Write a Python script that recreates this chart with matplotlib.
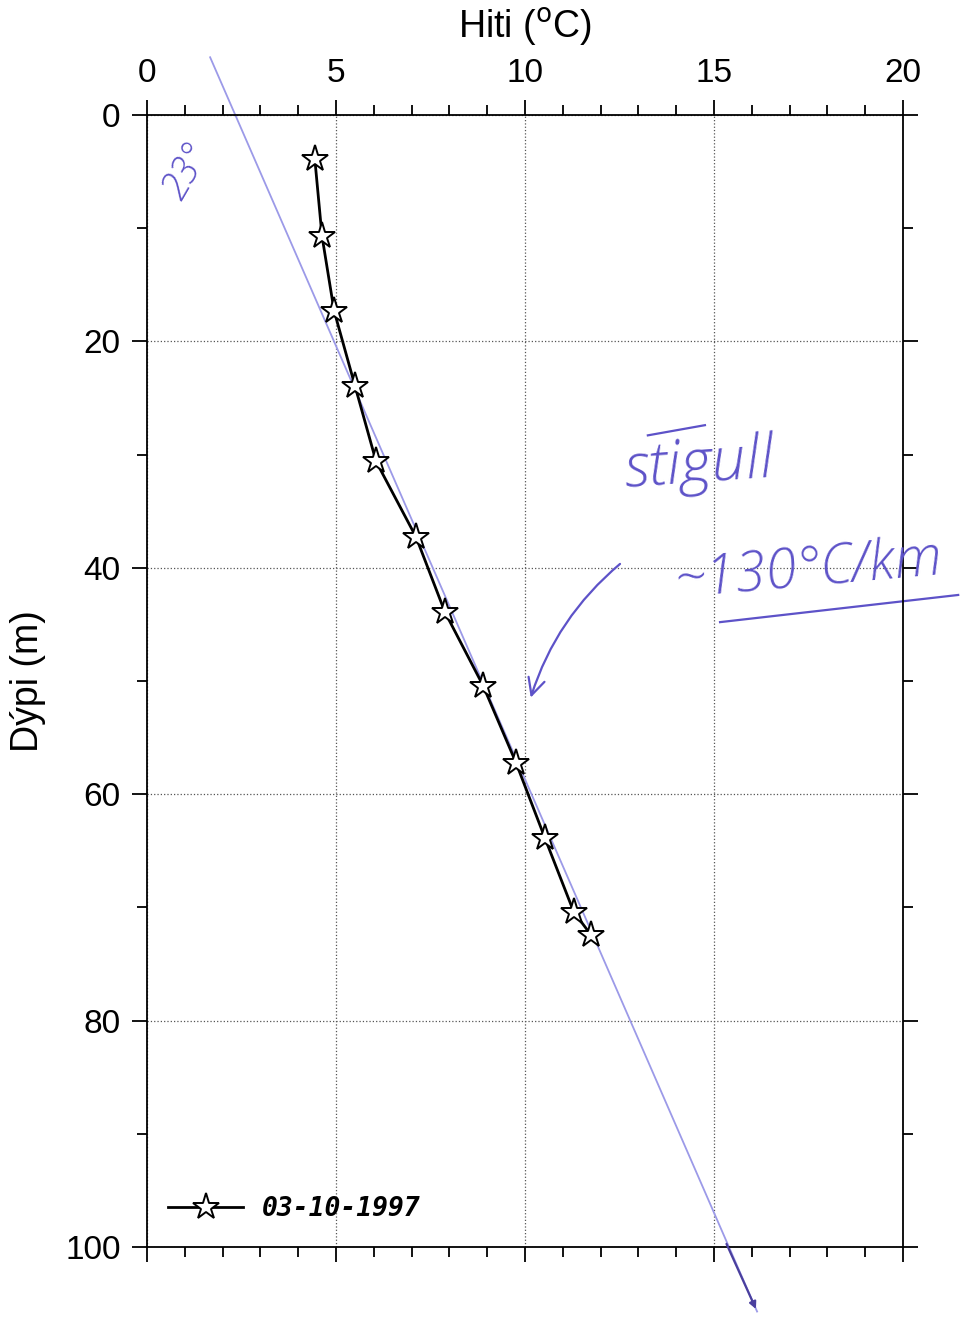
import numpy as np
import matplotlib.pyplot as plt
from matplotlib.ticker import MultipleLocator

plt.rcParams['font.family'] = ['Liberation Sans', 'DejaVu Sans']

# Measured temperature profile, 03-10-1997
temp = [4.44, 4.63, 4.95, 5.50, 6.06, 7.12, 7.88, 8.89, 9.76, 10.53, 11.29, 11.74]
depth = [3.9, 10.7, 17.3, 23.9, 30.6, 37.3, 43.9, 50.4, 57.2, 63.9, 70.4, 72.4]
series_label = '03-10-1997'

# Hand-drawn gradient line (~130 C/km), end points
grad_temp = [1.67, 16.14]
grad_depth = [-5.1, 105.7]

ink = '#5d52c8'
pale = '#9c9ae8'
hand = dict(color=ink, style='italic', weight='light',
            family=['Open Sans', 'DejaVu Sans'])

fig = plt.figure(figsize=(9.65, 13.18), dpi=100)
ax = fig.add_axes([147/965, 1 - 1247/1318, 756/965, 1132/1318])

# hand-drawn gradient line
ax.plot(grad_temp, grad_depth, color=pale, lw=1.3, clip_on=False, zorder=2)
ax.annotate('', xy=(grad_temp[1], grad_depth[1]), xytext=(15.3, 99.5),
            arrowprops=dict(arrowstyle='-|>', color='#4a3f9e', lw=1.6,
                            mutation_scale=10),
            annotation_clip=False)

# measured profile
ax.plot(temp, depth, color='black', lw=2, marker='*', ms=20,
        mfc='white', mec='black', mew=1.4, label=series_label, zorder=4)

ax.set_xlim(0, 20)
ax.set_ylim(100, 0)
ax.xaxis.set_major_locator(MultipleLocator(5))
ax.xaxis.set_minor_locator(MultipleLocator(1))
ax.yaxis.set_major_locator(MultipleLocator(20))
ax.yaxis.set_minor_locator(MultipleLocator(10))
ax.tick_params(which='both', direction='out', top=True, bottom=True,
               left=True, right=True, labeltop=True, labelbottom=False,
               labelsize=24, width=1.3, color='black')
ax.tick_params(which='major', length=11, pad=8)
ax.tick_params(which='minor', length=7)
for s in ax.spines.values():
    s.set_linewidth(1.3)

ax.grid(True, which='major', linestyle=':', color='#555555', lw=0.9)
ax.xaxis.set_label_position('top')
ax.set_xlabel('Hiti ($^{\\rm o}$C)', fontsize=27, labelpad=14)
ax.set_ylabel('Dýpi (m)', fontsize=27, labelpad=14)

leg = ax.legend(loc='center left', bbox_to_anchor=(21/756, 38/1132),
                frameon=False, borderpad=0, borderaxespad=0,
                handlelength=2.85, handletextpad=0.7,
                prop=dict(family='DejaVu Sans Mono', weight='bold',
                          style='oblique', size=19))

# handwritten notes
ax.text(1.05, 5.0, '23°', fontsize=27, rotation=60,
        ha='center', va='center', **hand)
ax.text(14.6, 31.0, 'stigull', fontsize=44, rotation=4,
        ha='center', va='center', **hand)
ax.plot([13.25, 14.76], [28.3, 27.4], color=ink, lw=1.6)
ax.text(17.5, 40.3, '~130°C/km', fontsize=40, rotation=5,
        ha='center', va='center', clip_on=False, **hand)
ax.plot([15.16, 21.46], [44.8, 42.4], color=ink, lw=1.6, clip_on=False)
ax.annotate('', xy=(10.13, 51.7), xytext=(12.57, 39.5),
            arrowprops=dict(arrowstyle='->', color=ink, lw=1.6,
                            mutation_scale=30,
                            connectionstyle='arc3,rad=0.15'))

fig.savefig('out.png', dpi=100)
